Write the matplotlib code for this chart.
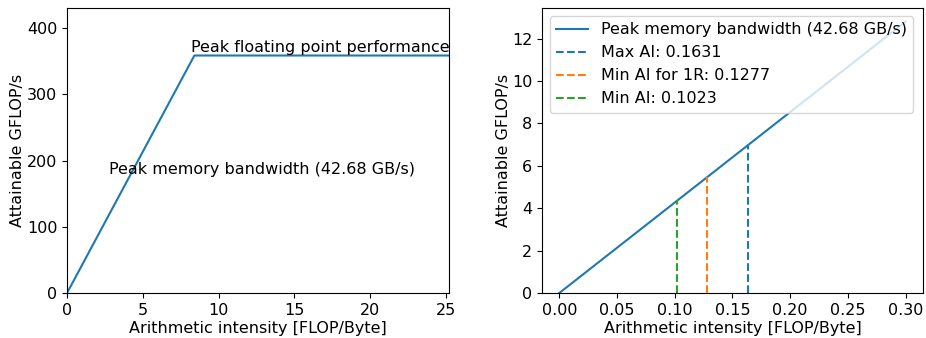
import numpy as np
import matplotlib
matplotlib.use("Agg")
from matplotlib import pyplot as plt

plt.rcParams['font.size'] = 11.5

# roofline parameters
bandwidth = 42.68      # GB/s
peak_flops = 358.5     # GFLOP/s
ridge = peak_flops / bandwidth

# arithmetic intensities of interest
ai_labels = ['Max AI', 'Min AI for 1R', 'Min AI']
ai_values = [0.1631, 0.1277, 0.1023]
ai_colors = ['C0', 'C1', 'C2']

fig = plt.figure(figsize=(9.26, 3.38), dpi=100)

# left: full roofline
ax1 = fig.add_axes([0.0724, 0.1331, 0.4125, 0.8432])
xs = [0, ridge, 3 * ridge]
ys = [0, peak_flops, peak_flops]
ax1.plot(xs, ys, color='C0')
ax1.set_xlim(0, 3 * ridge)
ax1.set_ylim(0, 1.2 * peak_flops)
ax1.text(ridge - 0.2, peak_flops + 6, 'Peak floating point performance')
ax1.text(ridge / 3, peak_flops / 2, 'Peak memory bandwidth (%.2f GB/s)' % bandwidth)
ax1.set_xlabel('Arithmetic intensity [FLOP/Byte]', labelpad=2)
ax1.set_ylabel('Attainable GFLOP/s', labelpad=1)

# right: zoom on memory bound part
ax2 = fig.add_axes([0.5853, 0.1331, 0.4114, 0.8432])
x = np.array([0, 0.3])
ax2.plot(x, bandwidth * x, color='C0',
         label='Peak memory bandwidth (%.2f GB/s)' % bandwidth)
for lab, v, c in zip(ai_labels, ai_values, ai_colors):
    ax2.vlines(v, 0, bandwidth * v, colors=c, linestyles='--',
               label='%s: %.4f' % (lab, v))
ax2.set_ylim(bottom=0)
ax2.set_xlabel('Arithmetic intensity [FLOP/Byte]', labelpad=2)
ax2.set_ylabel('Attainable GFLOP/s', labelpad=1)
ax2.legend(loc='upper left')

fig.savefig('out.png')
